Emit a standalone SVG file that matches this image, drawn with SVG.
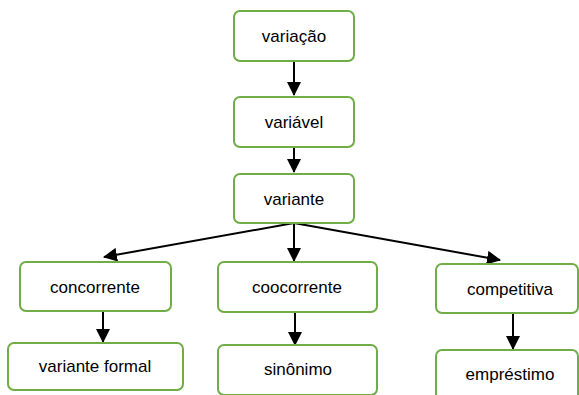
<svg xmlns="http://www.w3.org/2000/svg" width="579" height="395" viewBox="0 0 579 395">
<style>
.box{fill:#fff;stroke:#70AD47;stroke-width:2}
.lbl{font-family:"Liberation Sans",Arial,sans-serif;font-size:17px;fill:#000;text-anchor:middle}
.con{stroke:#000;stroke-width:2;fill:none;marker-end:url(#ah)}
</style>
<defs>
<marker id="ah" markerWidth="7" markerHeight="7" refX="6.5" refY="3.5" orient="auto" markerUnits="strokeWidth">
<path d="M0,0 L7,3.5 L0,7 Z" fill="#000"/>
</marker>
</defs>
<rect width="579" height="395" fill="#fff"/>
<g id="connectors">
<line class="con" x1="294" y1="61" x2="294" y2="95"/>
<line class="con" x1="294" y1="147" x2="294" y2="172"/>
<line class="con" x1="294" y1="223" x2="104" y2="257"/>
<line class="con" x1="294" y1="223" x2="294" y2="261"/>
<line class="con" x1="294" y1="223" x2="500" y2="260"/>
<line class="con" x1="103" y1="311" x2="103" y2="342"/>
<line class="con" x1="295" y1="312" x2="295" y2="345"/>
<line class="con" x1="513" y1="313" x2="513" y2="349"/>
</g>
<g id="variacao"><rect class="box" x="234" y="11" width="120" height="50" rx="6"/><text class="lbl" x="294" y="42">variação</text></g>
<g id="variavel"><rect class="box" x="234" y="97" width="120" height="50" rx="6"/><text class="lbl" x="294" y="128">variável</text></g>
<g id="variante"><rect class="box" x="234" y="174" width="120" height="49" rx="6"/><text class="lbl" x="294" y="205">variante</text></g>
<g id="concorrente"><rect class="box" x="20" y="262" width="151" height="49" rx="6"/><text class="lbl" x="95" y="293">concorrente</text></g>
<g id="coocorrente"><rect class="box" x="218" y="262" width="159" height="50" rx="6"/><text class="lbl" x="297" y="293">coocorrente</text></g>
<g id="competitiva"><rect class="box" x="436" y="264" width="142" height="49" rx="6"/><text class="lbl" x="510" y="295">competitiva</text></g>
<g id="variante-formal"><rect class="box" x="8" y="343" width="175" height="47" rx="6"/><text class="lbl" x="95" y="372">variante formal</text></g>
<g id="sinonimo"><rect class="box" x="218" y="345" width="159" height="50" rx="6"/><text class="lbl" x="298" y="375">sinônimo</text></g>
<g id="emprestimo"><rect class="box" x="436" y="350" width="142" height="50" rx="6"/><text class="lbl" x="510" y="380">empréstimo</text></g>
</svg>
